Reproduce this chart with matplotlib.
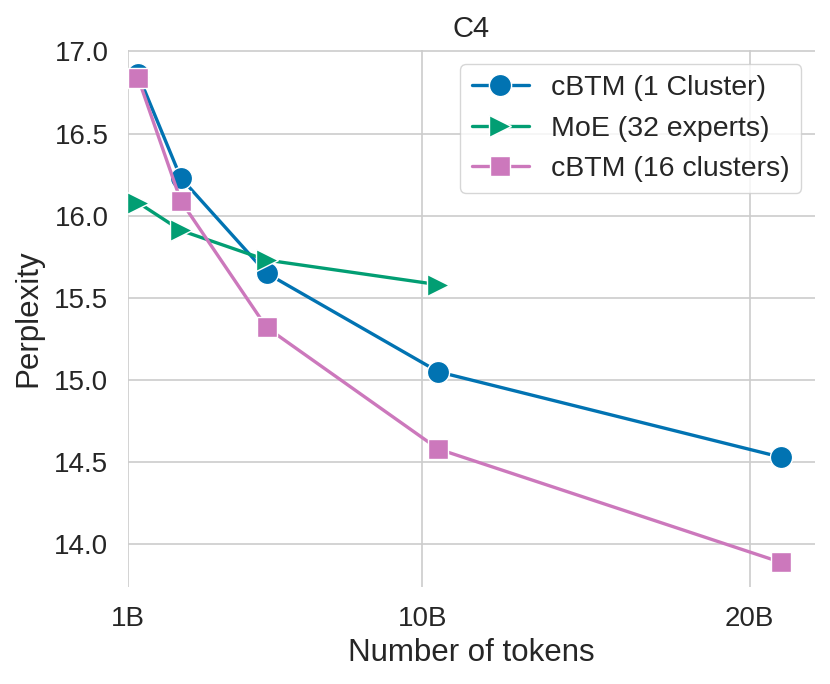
import numpy as np
import matplotlib
matplotlib.use("Agg")
import matplotlib.pyplot as plt
import seaborn as sns

sns.set_theme(style="whitegrid")
plt.rcParams["font.family"] = ["Liberation Sans", "DejaVu Sans"]

# Data (tokens in billions)
tokens = [1.31, 2.62, 5.24, 10.49, 20.97]
cbtm_1 = [16.86, 16.23, 15.65, 15.05, 14.53]
moe_32 = [16.08, 15.91, 15.73, 15.58]
cbtm_16 = [16.84, 16.09, 15.32, 14.58, 13.89]

tick_pos = [1, 10, 20]
tick_labels = ["1B", "10B", "20B"]

COLORS = sns.color_palette("colorblind")
BLUE, GREEN, PINK = COLORS[0], COLORS[2], COLORS[4]
TEXT = "#262626"

fig = plt.figure(figsize=(8.3, 6.84), dpi=100)
ax = fig.add_axes([0.154, 0.142, 0.828, 0.785])

common = dict(linewidth=2.4, markeredgecolor="white", markeredgewidth=1.0)
ax.plot(tokens, cbtm_1, marker="o", markersize=16, color=BLUE,
        label="cBTM (1 Cluster)", **common)
ax.plot(tokens[:len(moe_32)], moe_32, marker=">", markersize=16, color=GREEN,
        label="MoE (32 experts)", **common)
ax.plot(tokens, cbtm_16, marker="s", markersize=15, color=PINK,
        label="cBTM (16 clusters)", **common)

ax.set_xlim(1, 22)
ax.set_xticks(tick_pos)
ax.set_xticklabels(tick_labels)
ax.set_yticks([14.0, 14.5, 15.0, 15.5, 16.0, 16.5, 17.0])
ax.yaxis.set_major_formatter(matplotlib.ticker.FormatStrFormatter("%.1f"))

ax.tick_params(axis="both", labelsize=20, colors=TEXT, pad=8)
ax.set_xlabel("Number of tokens", fontsize=22.5, color=TEXT, labelpad=4)
ax.set_ylabel("Perplexity", fontsize=22.5, color=TEXT, labelpad=8)
ax.set_title("C4", fontsize=21, color=TEXT, pad=9)

for s in ax.spines.values():
    s.set_visible(False)
ax.grid(True, color="#cccccc", linewidth=1.2)

leg = ax.legend(loc="upper right", fontsize=20.5, frameon=True,
                borderpad=0.4, labelspacing=0.5, handlelength=2.0,
                handletextpad=0.8, borderaxespad=0,
                bbox_to_anchor=(0.98, 0.974))
leg.get_frame().set_edgecolor("#cccccc")
for t in leg.get_texts():
    t.set_color(TEXT)

fig.savefig("out.png", dpi=100)
